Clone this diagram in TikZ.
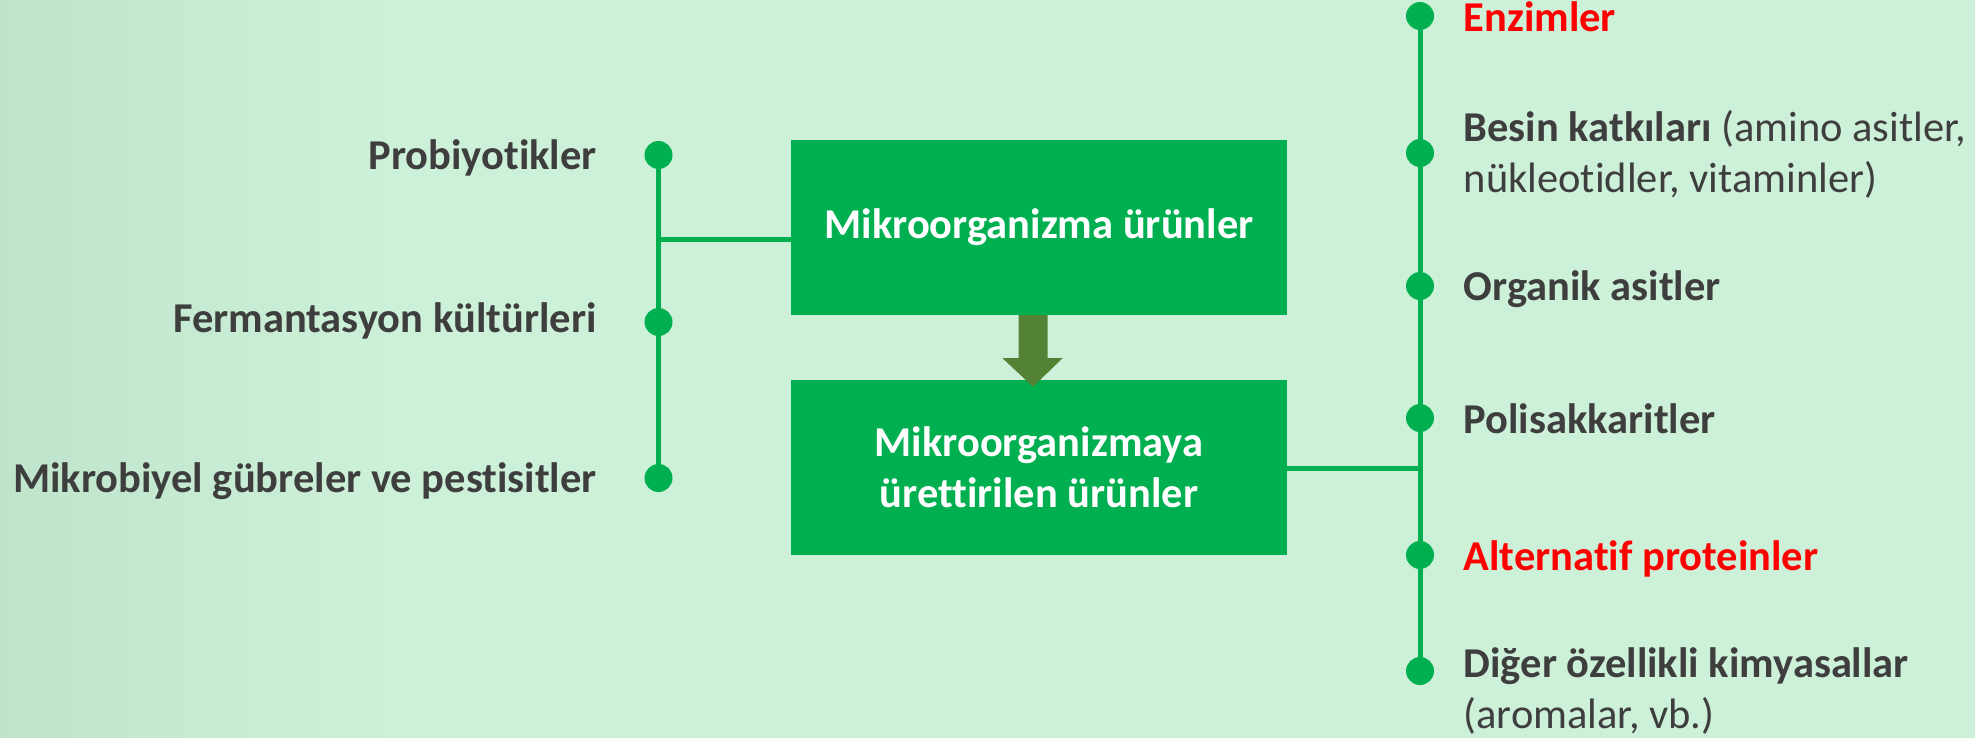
\documentclass[tikz,border=0pt]{standalone}
\usepackage{fontspec}
\setmainfont[RawFeature=-liga]{Carlito}
\usetikzlibrary{calc}
\definecolor{bg}{RGB}{205,240,217}
\definecolor{bgl}{RGB}{192,228,203}
\definecolor{grn}{RGB}{0,176,80}
\definecolor{olive}{RGB}{84,130,53}
\definecolor{txt}{RGB}{62,62,62}
\definecolor{rd}{RGB}{255,0,0}
\newcommand{\bigf}{\fontsize{42.5}{51}\selectfont}
\tikzset{
  dot/.style={circle,fill=grn,inner sep=0pt,minimum size=28pt},
  spine/.style={draw=grn,line width=5pt},
  box/.style={fill=grn,text=white,font=\bigf\bfseries,minimum width=496pt,minimum height=175pt,align=center,inner sep=0pt},
  ltxt/.style={anchor=base east,text=txt,font=\bigf\bfseries,inner sep=0pt},
  rtxt/.style={anchor=base west,text=txt,inner sep=0pt,align=left,font=\bigf},
  rbold/.style={rtxt,font=\bigf\bfseries}
}
\begin{document}
\begin{tikzpicture}[x=1pt,y=-1pt]
\useasboundingbox (0,0) rectangle (1975,738);
\fill[bg] (0,0) rectangle (1975,738);
\shade[left color=bgl,right color=bg] (0,0) rectangle (400,738);
% boxes
\node[box] (b1) at (1039,227.5) {Mikroorganizma ürünler};
\node[box] (b2) at (1039,467.5) {Mikroorganizmaya\\ürettirilen ürünler};
% block arrow
\fill[olive] ($(b1.south)+(-20.5,0)$) -- ($(b1.south)+(8.5,0)$) -- ($(b1.south)+(8.5,43)$) -- ($(b1.south)+(23.5,43)$) -- ($(b2.north)+(-6,7)$) -- ($(b1.south)+(-36.5,43)$) -- ($(b1.south)+(-20.5,43)$) -- cycle;
% left dots
\node[dot] (l1) at (658.5,155) {};
\node[dot] (l2) at (658.5,322) {};
\node[dot] (l3) at (658.5,478) {};
\coordinate (lj) at (658.5,239);
\draw[spine] (l1) -- (l2) -- (l3);
\draw[spine] (lj) -- (b1.west |- lj);
\node[ltxt] (t1) at (597,170) {Probiyotikler};
\node[ltxt] (t2) at (597,332) {Fermantasyon kültürleri};
\node[ltxt] (t3) at (597,492) {Mikrobiyel gübreler ve pestisitler};
% right dots
\node[dot] (r1) at (1420,16) {};
\node[dot] (r2) at (1420,153) {};
\node[dot] (r3) at (1420,286) {};
\node[dot] (r4) at (1420,418) {};
\node[dot] (r5) at (1420,555) {};
\node[dot] (r6) at (1420,671) {};
\coordinate (rj) at (1420,468);
\draw[spine] (r1) -- (r2) -- (r3) -- (r4) -- (r5) -- (r6);
\draw[spine] (b2.east |- rj) -- (rj);
\node[rbold,text=rd] (s1) at (1463.5,32) {Enzimler};
\node[rtxt] (s2) at (1463.5,142) {\textbf{Besin katkıları} (amino asitler,};
\node[rtxt] (s2b) at (1463.5,193) {nükleotidler, vitaminler)};
\node[rbold] (s3) at (1463.5,300) {Organik asitler};
\node[rbold] (s4) at (1463.5,433) {Polisakkaritler};
\node[rbold,text=rd] (s5) at (1463.5,570) {Alternatif proteinler};
\node[rbold] (s6) at (1463.5,677) {Diğer özellikli kimyasallar};
\node[rtxt] (s6b) at (1463.5,728) {(aromalar, vb.)};
\end{tikzpicture}
\end{document}
